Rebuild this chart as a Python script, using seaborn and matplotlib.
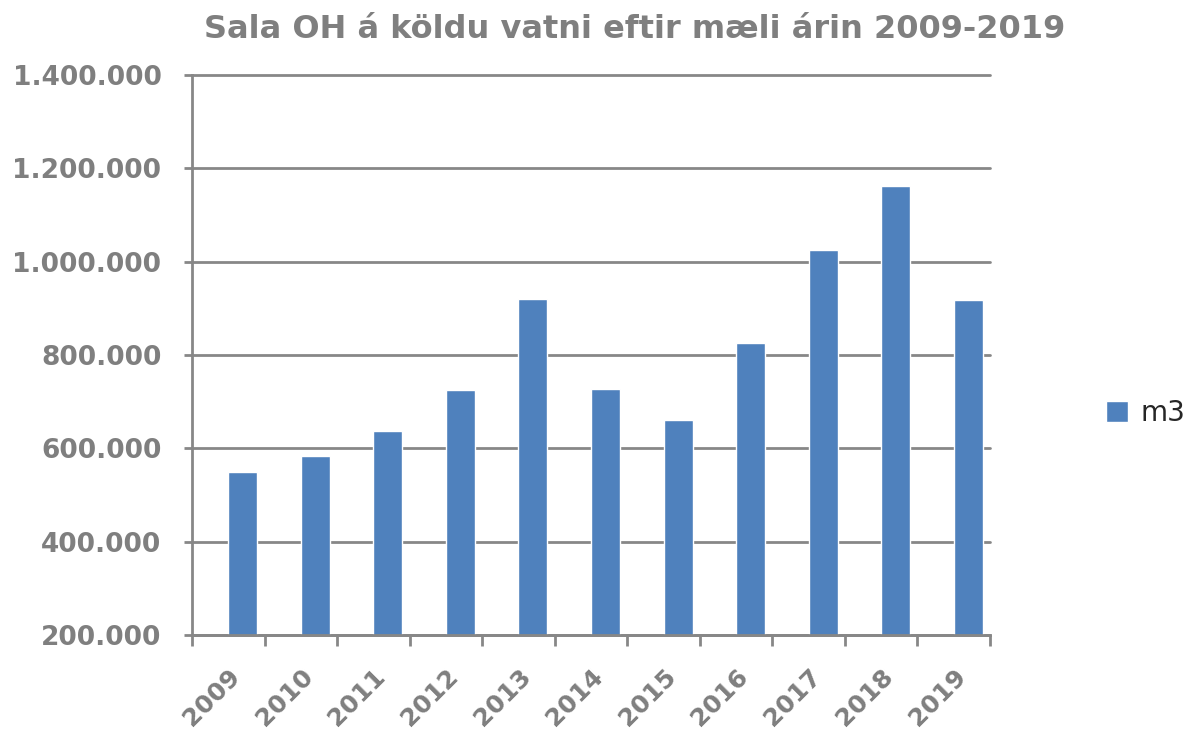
import numpy as np
import pandas as pd
import matplotlib
matplotlib.use('Agg')
import matplotlib.pyplot as plt
from matplotlib.patches import Patch
import seaborn as sns

# values (m3 per year)
years = ['2009', '2010', '2011', '2012', '2013', '2014',
         '2015', '2016', '2017', '2018', '2019']
m3 = [550000, 583000, 637000, 724000, 921000, 728000,
      660000, 826000, 1026000, 1162000, 918000]
y_ticks = [200000, 400000, 600000, 800000, 1000000, 1200000, 1400000]

title = 'Sala OH á köldu vatni eftir mæli árin 2009-2019'
bar_color = '#4F81BD'
grey = '#878787'
text_grey = '#7F7F7F'

df = pd.DataFrame({'year': years, 'value': m3, 'series': 'm3'})

sns.set_style('ticks')
plt.rcParams['font.family'] = ['DejaVu Sans']

fig = plt.figure(figsize=(11.91, 7.36), dpi=100)
ax = fig.add_axes([192 / 1191, 1 - 635 / 736, (990 - 192) / 1191, 560 / 736])

# an empty first hue level keeps the Excel-style offset of the bars
sns.barplot(data=df, x='year', y='value', hue='series', hue_order=['_', 'm3'],
            palette={'_': bar_color, 'm3': bar_color}, width=0.8,
            dodge=True, legend=False, saturation=1, ax=ax)

ax.set_ylim(y_ticks[0], y_ticks[-1])
ax.set_xlim(-0.5, len(years) - 0.5)
ax.set_yticks(y_ticks)
ax.set_yticklabels([f'{v:,.0f}'.replace(',', '.') for v in y_ticks])
ax.set_xlabel('')
ax.set_ylabel('')

ax.yaxis.grid(True, color=grey, lw=2)
for gl in ax.get_ygridlines():
    gl.set_clip_on(False)
ax.set_axisbelow(True)

for side in ['top', 'right']:
    ax.spines[side].set_visible(False)
for side in ['left', 'bottom']:
    ax.spines[side].set_color(grey)
    ax.spines[side].set_linewidth(2)

# x ticks at category boundaries, labels at the centres
ax.set_xticks(np.arange(-0.5, len(years), 1), minor=True)
ax.tick_params(axis='x', which='major', bottom=True, length=0, pad=21)
ax.tick_params(axis='x', which='minor', bottom=True, length=8, width=2,
               color=grey, direction='out')
ax.tick_params(axis='y', which='major', left=True, length=6, width=2,
               color=grey, direction='out', pad=16)
ax.tick_params(axis='y', which='minor', left=False)

for lab in ax.get_xticklabels():
    lab.set_rotation(45)
    lab.set_ha('right')
    lab.set_rotation_mode('anchor')
    lab.set_fontsize(18)
    lab.set_fontweight('bold')
    lab.set_color(text_grey)
for lab in ax.get_yticklabels():
    lab.set_fontsize(19)
    lab.set_fontweight('bold')
    lab.set_color(text_grey)

fig.text(635 / 1191, 1 - 30 / 736, title, ha='center', va='center',
         fontsize=23, fontweight='bold', color=text_grey)

fig.legend(handles=[Patch(facecolor=bar_color, label='m3')],
           loc='center left', bbox_to_anchor=(1106 / 1191, 1 - 413 / 736),
           frameon=False, handlelength=0.8, handleheight=0.8,
           handletextpad=0.45, fontsize=20, labelcolor='#262626',
           borderpad=0, borderaxespad=0)

fig.savefig('out.png', dpi=100)
